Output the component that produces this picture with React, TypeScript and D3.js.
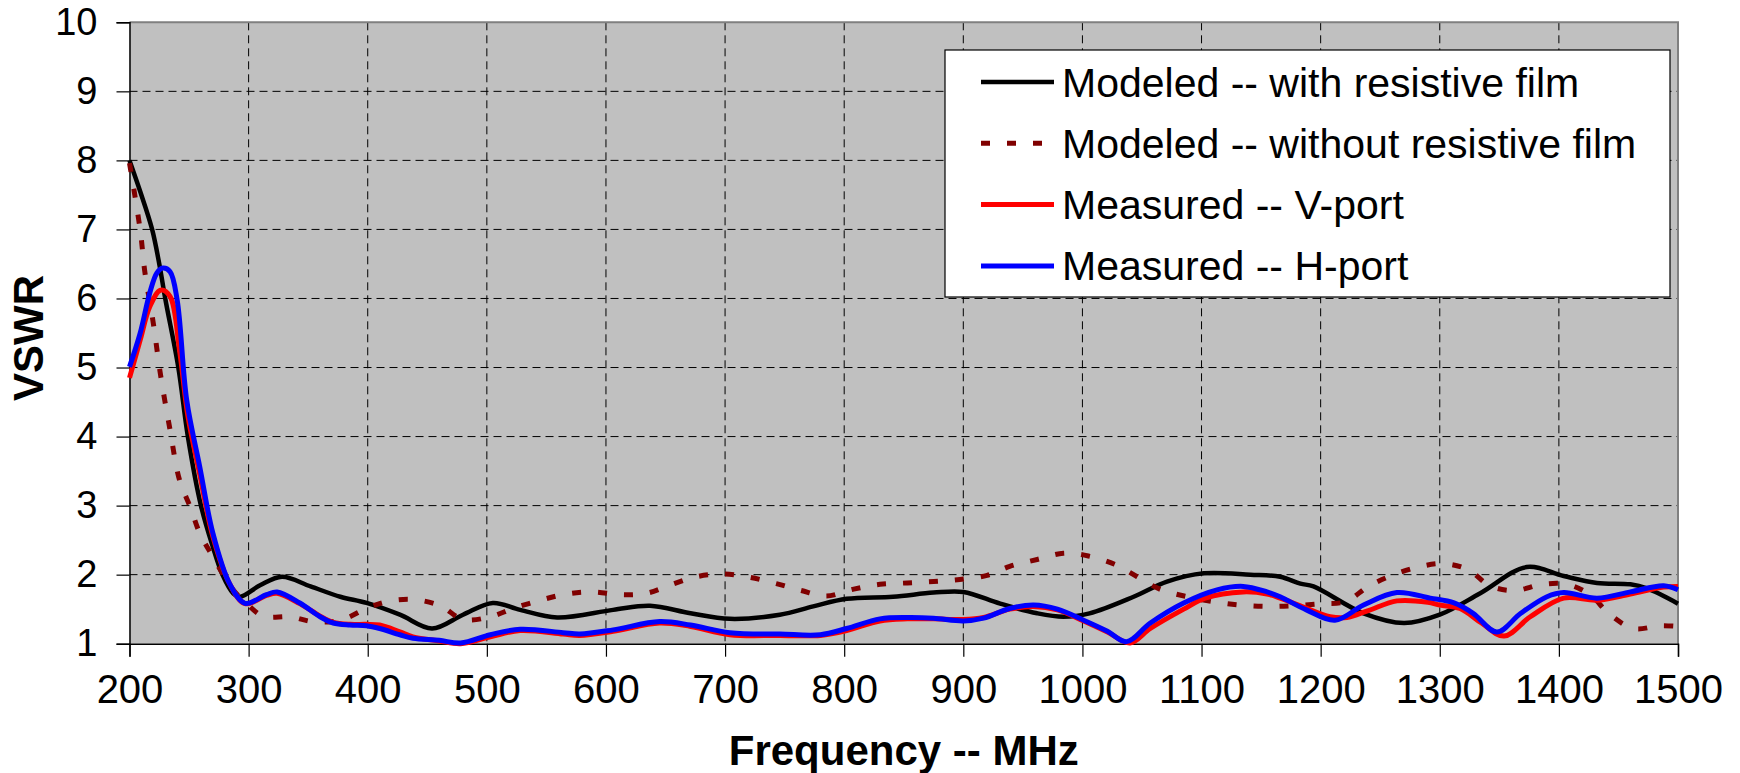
import * as d3 from 'd3';
import { useEffect, useRef } from 'react';

// frequency (MHz), VSWR pairs
const modeledWithFilm: [number, number][] = [
  [200, 8.0], [209, 7.55], [219, 7.0], [225, 6.5], [230, 6.0], [241, 5.0], [249, 4.0],
  [260, 3.0], [270, 2.4], [278, 2.0], [287, 1.73], [293, 1.68], [310, 1.85], [328, 1.97],
  [352, 1.83], [377, 1.68], [399, 1.59], [427, 1.42], [454, 1.22], [480, 1.42], [505, 1.59],
  [528, 1.49], [559, 1.38], [606, 1.49], [637, 1.55], [671, 1.44], [704, 1.36], [746, 1.42],
  [774, 1.54], [802, 1.65], [841, 1.68], [875, 1.74], [900, 1.75], [931, 1.58], [962, 1.44],
  [984, 1.39], [1006, 1.44], [1043, 1.68], [1071, 1.9], [1102, 2.02], [1141, 2.0],
  [1166, 1.97], [1183, 1.87], [1194, 1.83], [1236, 1.44], [1270, 1.3], [1300, 1.42],
  [1334, 1.73], [1373, 2.11], [1404, 1.98], [1432, 1.88], [1460, 1.86], [1474, 1.8],
  [1500, 1.58],
];

const modeledWithoutFilm: [number, number][] = [
  [200, 7.96], [209, 6.99], [213, 6.37], [220, 5.64], [226, 4.9], [234, 4.1], [242, 3.37],
  [251, 2.98], [259, 2.6], [270, 2.26], [287, 1.78], [298, 1.59], [312, 1.4], [335, 1.39],
  [354, 1.32], [377, 1.34], [399, 1.51], [416, 1.61], [438, 1.64], [461, 1.55], [480, 1.35],
  [503, 1.39], [522, 1.51], [545, 1.63], [567, 1.72], [589, 1.75], [612, 1.71], [634, 1.73],
  [654, 1.85], [676, 1.97], [699, 2.01], [721, 1.96], [743, 1.87], [764, 1.77], [785, 1.69],
  [808, 1.79], [830, 1.86], [853, 1.88], [875, 1.9], [897, 1.93], [920, 1.99], [939, 2.12],
  [962, 2.22], [984, 2.31], [1005, 2.27], [1027, 2.15], [1046, 1.97], [1065, 1.79],
  [1088, 1.68], [1110, 1.61], [1132, 1.56], [1155, 1.54], [1177, 1.55], [1200, 1.58],
  [1221, 1.61], [1240, 1.83], [1260, 1.99], [1282, 2.11], [1303, 2.16], [1324, 2.07],
  [1342, 1.84], [1363, 1.77], [1386, 1.86], [1407, 1.86], [1426, 1.71], [1443, 1.42],
  [1463, 1.22], [1485, 1.26], [1500, 1.25],
];

const measuredV: [number, number][] = [
  [200, 4.85], [209, 5.4], [217, 5.88], [226, 6.12], [234, 6.03], [242, 5.25], [249, 4.3],
  [259, 3.45], [270, 2.55], [284, 1.87], [297, 1.58], [315, 1.7], [324, 1.73], [343, 1.58],
  [360, 1.4], [371, 1.31], [385, 1.28], [399, 1.28], [410, 1.27], [427, 1.17], [438, 1.1],
  [460, 1.04], [478, 1.0], [503, 1.1], [528, 1.19], [564, 1.14], [578, 1.12], [606, 1.18],
  [645, 1.3], [671, 1.25], [704, 1.13], [746, 1.12], [780, 1.12], [802, 1.19], [830, 1.33],
  [853, 1.36], [875, 1.36], [900, 1.35], [917, 1.38], [939, 1.5], [959, 1.54], [979, 1.49],
  [1001, 1.33], [1021, 1.17], [1040, 1.01], [1057, 1.22], [1085, 1.5], [1103, 1.66],
  [1135, 1.75], [1155, 1.72], [1166, 1.66], [1183, 1.55], [1208, 1.39], [1222, 1.38],
  [1240, 1.48], [1264, 1.62], [1290, 1.6], [1300, 1.56], [1317, 1.51], [1335, 1.3],
  [1354, 1.11], [1376, 1.39], [1404, 1.66], [1432, 1.63], [1460, 1.72], [1488, 1.82],
  [1500, 1.83],
];

const measuredH: [number, number][] = [
  [200, 5.01], [209, 5.5], [217, 6.08], [223, 6.37], [228, 6.44], [234, 6.39], [240, 5.98],
  [248, 4.53], [259, 3.56], [270, 2.6], [284, 1.87], [297, 1.585], [315, 1.71], [324, 1.75],
  [343, 1.59], [360, 1.39], [371, 1.3], [385, 1.27], [399, 1.26], [410, 1.22], [427, 1.13],
  [438, 1.08], [460, 1.05], [478, 1.01], [503, 1.13], [528, 1.21], [564, 1.16], [578, 1.14],
  [606, 1.2], [645, 1.32], [671, 1.27], [704, 1.16], [746, 1.14], [780, 1.13], [802, 1.22],
  [830, 1.36], [853, 1.38], [875, 1.37], [900, 1.33], [917, 1.37], [939, 1.51], [959, 1.56],
  [979, 1.5], [1001, 1.34], [1021, 1.18], [1037, 1.03], [1057, 1.3], [1085, 1.59],
  [1113, 1.78], [1135, 1.83], [1155, 1.75], [1166, 1.68], [1188, 1.49], [1212, 1.34],
  [1236, 1.56], [1264, 1.74], [1292, 1.66], [1312, 1.59], [1328, 1.44], [1348, 1.17],
  [1368, 1.44], [1390, 1.68], [1404, 1.74], [1432, 1.66], [1460, 1.75], [1488, 1.84],
  [1500, 1.78],
];

const seriesNames = [
  'Modeled -- with resistive film',
  'Modeled -- without resistive film',
  'Measured -- V-port',
  'Measured -- H-port',
];

const xTicks = d3.range(200, 1501, 100);
const yTicks = d3.range(1, 11, 1);

export default function App() {
  const ref = useRef<SVGSVGElement>(null);

  useEffect(() => {
    if (!ref.current) return;
    const svg = d3.select(ref.current);
    svg.selectAll('*').remove();

    const W = 1740,
      H = 773;
    const left = 129.5,
      right = 1678,
      top = 22.3,
      bottom = 643.7;
    const font = 'Liberation Sans, Arial, sans-serif';

    const x = d3.scaleLinear().domain([200, 1500]).range([left, right]);
    const y = d3.scaleLinear().domain([1, 10]).range([bottom, top]);

    svg.append('rect').attr('width', W).attr('height', H).attr('fill', '#fff');

    // plot area
    svg
      .append('rect')
      .attr('x', left)
      .attr('y', top)
      .attr('width', right - left)
      .attr('height', bottom - top)
      .attr('fill', '#c0c0c0');

    // grid
    const grid = svg
      .append('g')
      .attr('stroke', '#000')
      .attr('stroke-width', 1)
      .attr('stroke-dasharray', '8 5');
    yTicks
      .filter((t) => t > 1 && t < 10)
      .forEach((t) => {
        grid.append('line').attr('x1', left).attr('x2', right).attr('y1', y(t)).attr('y2', y(t));
      });
    xTicks
      .filter((t) => t > 200 && t < 1500)
      .forEach((t) => {
        grid.append('line').attr('x1', x(t)).attr('x2', x(t)).attr('y1', top).attr('y2', bottom);
      });

    // plot border (top/right grey)
    svg
      .append('path')
      .attr('d', `M${left},${top}H${right}V${bottom}`)
      .attr('fill', 'none')
      .attr('stroke', '#808080')
      .attr('stroke-width', 2);

    // axes
    const yAxis = d3
      .axisLeft(y)
      .tickValues(yTicks)
      .tickSize(13)
      .tickPadding(19)
      .tickFormat(d3.format('d'));
    const gy = svg.append('g').attr('transform', `translate(${left},0)`).call(yAxis);
    gy.select('.domain').attr('stroke', '#000').attr('stroke-width', 1.5);
    gy.selectAll('.tick line').attr('stroke', '#000').attr('stroke-width', 1.2);
    gy.selectAll('.tick text')
      .attr('font-family', font)
      .attr('font-size', 38)
      .attr('fill', '#000');

    const xAxis = d3
      .axisBottom(x)
      .tickValues(xTicks)
      .tickSize(13)
      .tickPadding(18)
      .tickFormat(d3.format('d'));
    const gx = svg.append('g').attr('transform', `translate(0,${bottom})`).call(xAxis);
    gx.select('.domain').attr('stroke', '#000').attr('stroke-width', 1.5);
    gx.selectAll('.tick line').attr('stroke', '#000').attr('stroke-width', 1.2);
    gx.selectAll('.tick text')
      .attr('font-family', font)
      .attr('font-size', 40)
      .attr('fill', '#000');

    // axis titles
    svg
      .append('text')
      .text('Frequency -- MHz')
      .attr('x', (left + right) / 2)
      .attr('y', 765)
      .attr('text-anchor', 'middle')
      .attr('font-family', font)
      .attr('font-weight', 'bold')
      .attr('font-size', 42);
    svg
      .append('text')
      .text('VSWR')
      .attr('transform', `translate(43,${(top + bottom) / 2 + 5}) rotate(-90)`)
      .attr('text-anchor', 'middle')
      .attr('font-family', font)
      .attr('font-weight', 'bold')
      .attr('font-size', 42);

    // lines
    const line = d3
      .line<[number, number]>()
      .x((d) => x(d[0]))
      .y((d) => y(d[1]))
      .curve(d3.curveCatmullRom.alpha(0.5));

    const styles = [
      { data: modeledWithFilm, color: '#000000', width: 4.5, dash: null as string | null },
      { data: modeledWithoutFilm, color: '#800000', width: 5, dash: '9 17' },
      { data: measuredV, color: '#ff0000', width: 5, dash: null },
      { data: measuredH, color: '#0000ff', width: 5, dash: null },
    ];

    const lines = svg.append('g');
    styles.forEach((s) => {
      const p = lines
        .append('path')
        .attr('d', line(s.data))
        .attr('fill', 'none')
        .attr('stroke', s.color)
        .attr('stroke-width', s.width)
        .attr('stroke-linejoin', 'round');
      if (s.dash) p.attr('stroke-dasharray', s.dash);
    });

    // legend
    const lg = svg.append('g');
    lg.append('rect')
      .attr('x', 945)
      .attr('y', 50)
      .attr('width', 725)
      .attr('height', 247)
      .attr('fill', '#fff')
      .attr('stroke', '#000')
      .attr('stroke-width', 1.2);
    seriesNames.forEach((name, i) => {
      const s = styles[i];
      const cy = 82 + i * 61.3;
      const l = lg
        .append('line')
        .attr('x1', 981)
        .attr('x2', 1054)
        .attr('y1', cy)
        .attr('y2', cy)
        .attr('stroke', s.color)
        .attr('stroke-width', s.width);
      if (s.dash) l.attr('stroke-dasharray', '9 17').attr('x2', 1050);
      lg.append('text')
        .text(name)
        .attr('x', 1062)
        .attr('y', cy + 14.5)
        .attr('font-family', font)
        .attr('font-size', 41)
        .attr('fill', '#000');
    });
  }, []);

  return (
    <svg
      ref={ref}
      width={1740}
      height={773}
      style={{ position: 'absolute', left: 0, top: 0, display: 'block' }}
    />
  );
}
